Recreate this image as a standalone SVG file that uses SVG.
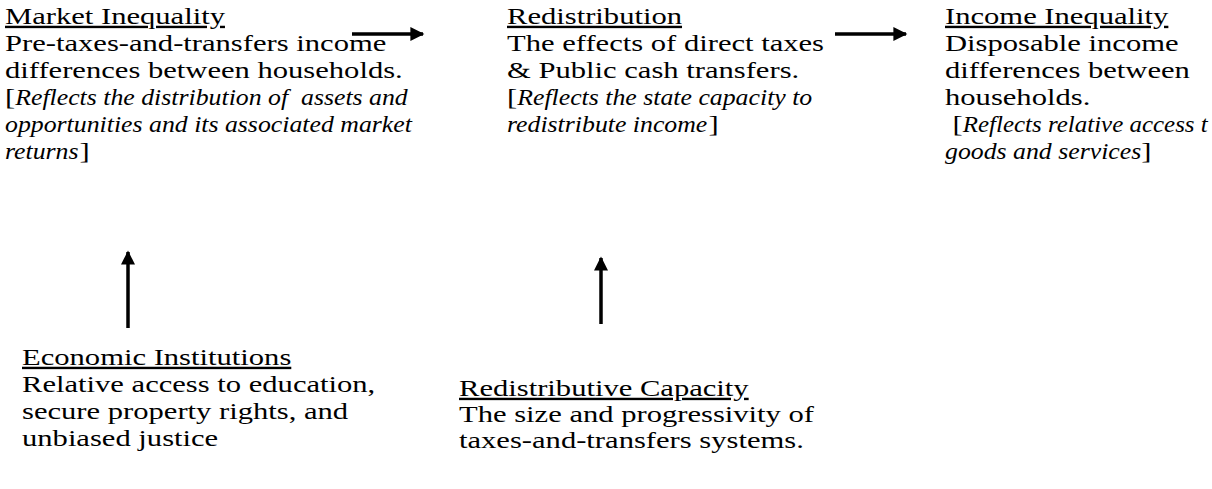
<svg xmlns="http://www.w3.org/2000/svg" width="1212" height="489" viewBox="0 0 1212 489">
<style>
text{font-family:"Liberation Serif","Times New Roman",serif;font-size:24px;fill:#000;white-space:pre}
.t{text-decoration:underline}
.i{font-style:italic}
.c{stroke:#000;stroke-width:3.5;fill:none}
</style>
<defs>
<marker id="ah" viewBox="0 0 10 10" refX="9" refY="5" markerWidth="4.2" markerHeight="4" markerUnits="strokeWidth" orient="auto">
<path d="M0,0 L10,5 L0,10 Z" fill="#000"/>
</marker>
</defs>
<rect width="1212" height="489" fill="#fff"/>
<g id="market-inequality">
<text class="t" transform="translate(5,24) scale(1.275,1)">Market Inequality</text>
<text transform="translate(5,51) scale(1.275,1)">Pre-taxes-and-transfers income</text>
<text transform="translate(5,78) scale(1.275,1)">differences between households.</text>
<text transform="translate(5,105) scale(1.275,1)">[</text>
<text class="i" transform="translate(15.2,105) scale(1.075,1)">Reflects the distribution of  assets and</text>
<text class="i" transform="translate(5,132) scale(1.075,1)">opportunities and its associated market</text>
<text class="i" transform="translate(5,159) scale(1.075,1)">returns</text>
<text transform="translate(79.5,159) scale(1.275,1)">]</text>
</g>
<g id="redistribution">
<text class="t" transform="translate(507,24) scale(1.275,1)">Redistribution</text>
<text transform="translate(507,51) scale(1.275,1)">The effects of direct taxes</text>
<text transform="translate(507,78) scale(1.275,1)">&amp; Public cash transfers.</text>
<text transform="translate(507,105) scale(1.275,1)">[</text>
<text class="i" transform="translate(517.2,105) scale(1.075,1)">Reflects the state capacity to</text>
<text class="i" transform="translate(507,132) scale(1.075,1)">redistribute income</text>
<text transform="translate(708.4,132) scale(1.275,1)">]</text>
</g>
<g id="income-inequality">
<text class="t" transform="translate(945,24) scale(1.275,1)">Income Inequality</text>
<text transform="translate(945,51) scale(1.275,1)">Disposable income</text>
<text transform="translate(945,78) scale(1.275,1)">differences between</text>
<text transform="translate(945,105) scale(1.275,1)">households.</text>
<text transform="translate(952.6,132) scale(1.275,1)">[</text>
<text class="i" transform="translate(962.8,132) scale(1.04,1)">Reflects relative access t</text>
<text class="i" transform="translate(945,159) scale(1.075,1)">goods and services</text>
<text transform="translate(1141.3,159) scale(1.275,1)">]</text>
</g>
<g id="economic-institutions">
<text class="t" transform="translate(22,365) scale(1.275,1)">Economic Institutions</text>
<text transform="translate(22,392) scale(1.275,1)">Relative access to education,</text>
<text transform="translate(22,419) scale(1.275,1)">secure property rights, and</text>
<text transform="translate(22,446) scale(1.275,1)">unbiased justice</text>
</g>
<g id="redistributive-capacity">
<text class="t" transform="translate(459,396) scale(1.275,1)">Redistributive Capacity</text>
<text transform="translate(459,422) scale(1.275,1)">The size and progressivity of</text>
<text transform="translate(459,448) scale(1.275,1)">taxes-and-transfers systems.</text>
</g>
<g id="connectors">
<line class="c" x1="352" y1="34" x2="423" y2="34" marker-end="url(#ah)"/>
<line class="c" x1="835" y1="34" x2="906" y2="34" marker-end="url(#ah)"/>
<line class="c" x1="128" y1="328" x2="128" y2="252" marker-end="url(#ah)"/>
<line class="c" x1="601" y1="324" x2="601" y2="258" marker-end="url(#ah)"/>
</g>
</svg>
